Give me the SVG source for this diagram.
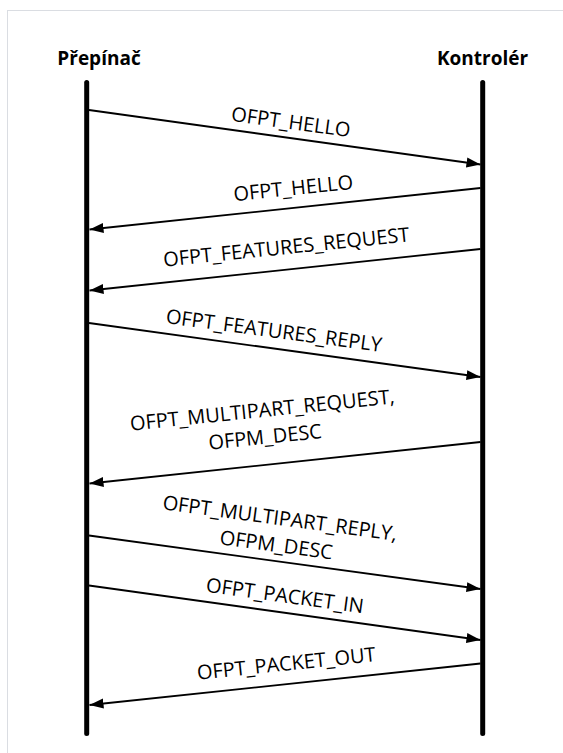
<svg xmlns="http://www.w3.org/2000/svg" width="563" height="753" viewBox="0 0 563 753">
  <style>
    .frame { fill: #ffffff; stroke: #dadde2; stroke-width: 1; }
    .life { stroke: #000; stroke-width: 5; stroke-linecap: round; fill: none; }
    .msg { stroke: #000; stroke-width: 1.8; fill: none; marker-end: url(#arr); }
    .hdr { font-family: "Open Sans", "Liberation Sans", sans-serif; font-weight: bold; font-size: 19px; fill: #000; }
    .lbl { font-family: "Open Sans", "Liberation Sans", sans-serif; font-size: 20px; fill: #000; text-anchor: middle; }
  </style>
  <defs>
    <marker id="arr" markerUnits="userSpaceOnUse" markerWidth="16" markerHeight="12" refX="14" refY="5" orient="auto" viewBox="0 0 16 10">
      <path d="M0,0 L14,5 L0,10 z" fill="#000"/>
    </marker>
  </defs>
  <rect class="frame" x="7.5" y="10.5" width="600" height="800"/>

  <g id="node-switch">
    <text class="hdr" x="99" y="65" text-anchor="middle">Přepínač</text>
    <line class="life" x1="86.7" y1="82.5" x2="86.7" y2="733.5"/>
  </g>
  <g id="node-controller">
    <text class="hdr" x="482.5" y="65" text-anchor="middle">Kontrolér</text>
    <line class="life" x1="482.7" y1="82.5" x2="482.7" y2="733.5"/>
  </g>

  <g id="connectors">
    <line class="msg" x1="89" y1="110" x2="480.5" y2="164.5"/>
    <line class="msg" x1="480.5" y1="188" x2="89.5" y2="229.5"/>
    <line class="msg" x1="480.5" y1="249" x2="89.5" y2="290.5"/>
    <line class="msg" x1="89" y1="323" x2="480.5" y2="377"/>
    <line class="msg" x1="480.5" y1="442" x2="89.5" y2="483.5"/>
    <line class="msg" x1="89" y1="535.5" x2="480.5" y2="589"/>
    <line class="msg" x1="89" y1="585.5" x2="480.5" y2="640"/>
    <line class="msg" x1="480.5" y1="663.5" x2="89.5" y2="705"/>
  </g>

  <g id="labels">
    <text class="lbl" transform="translate(290,129) rotate(7.8)">OFPT_HELLO</text>
    <text class="lbl" transform="translate(294,195) rotate(-5.9)">OFPT_HELLO</text>
    <text class="lbl" transform="translate(287,254) rotate(-5.9)">OFPT_FEATURES_REQUEST</text>
    <text class="lbl" transform="translate(273,337.5) rotate(7.6)">OFPT_FEATURES_REPLY</text>
    <text class="lbl" transform="translate(263,417) rotate(-5.9)"><tspan x="0" y="0">OFPT_MULTIPART_REQUEST,</tspan><tspan x="0" y="27">OFPM_DESC</tspan></text>
    <text class="lbl" transform="translate(279,525) rotate(7.7)"><tspan x="0" y="0">OFPT_MULTIPART_REPLY,</tspan><tspan x="0" y="27">OFPM_DESC</tspan></text>
    <text class="lbl" transform="translate(284,602.5) rotate(7.8)">OFPT_PACKET_IN</text>
    <text class="lbl" transform="translate(287,670.5) rotate(-6)">OFPT_PACKET_OUT</text>
  </g>
</svg>
